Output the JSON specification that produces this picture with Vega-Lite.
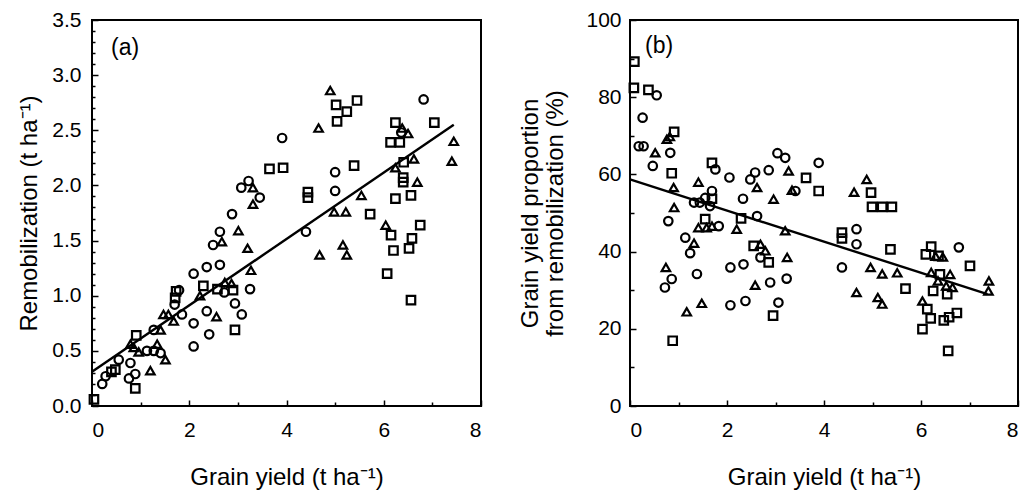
{
  "$schema": "https://vega.github.io/schema/vega-lite/v6.json",
  "padding": {"left": 16, "top": 8, "right": 5, "bottom": 5},
  "spacing": 34,
  "config": {
    "font": "Liberation Sans",
    "view": {"stroke": "black", "strokeWidth": 2},
    "axis": {"grid": false, "domain": false, "labelFont": "Liberation Sans", "titleFont": "Liberation Sans", "labelFontSize": 21, "titleFontSize": 24, "titleFontWeight": "normal", "labelColor": "black", "titleColor": "black", "tickColor": "black", "tickWidth": 1.5}
  },
  "datasets": {
    "a": [
      {"g":"S","x":0.04,"y":0.06},{"g":"C","x":0.21,"y":0.2},{"g":"C","x":0.28,"y":0.27},{"g":"S","x":0.4,"y":0.31},{"g":"S","x":0.48,"y":0.33},{"g":"C","x":0.55,"y":0.42},
      {"g":"T","x":0.79,"y":0.56},{"g":"T","x":0.86,"y":0.53},{"g":"S","x":0.91,"y":0.64},{"g":"C","x":0.79,"y":0.39},{"g":"C","x":0.89,"y":0.29},{"g":"C","x":0.76,"y":0.25},
      {"g":"S","x":0.89,"y":0.16},{"g":"T","x":0.96,"y":0.49},{"g":"T","x":1.2,"y":0.32},{"g":"C","x":1.13,"y":0.5},{"g":"C","x":1.27,"y":0.5},{"g":"T","x":1.34,"y":0.56},
      {"g":"C","x":1.41,"y":0.48},{"g":"T","x":1.51,"y":0.42},{"g":"C","x":1.27,"y":0.69},{"g":"T","x":1.41,"y":0.69},{"g":"T","x":1.47,"y":0.83},{"g":"T","x":1.57,"y":0.83},
      {"g":"T","x":1.68,"y":0.77},{"g":"C","x":1.7,"y":0.92},{"g":"S","x":1.71,"y":0.98},{"g":"S","x":1.73,"y":1.04},{"g":"C","x":1.79,"y":1.05},{"g":"C","x":1.85,"y":0.83},
      {"g":"C","x":2.09,"y":0.54},{"g":"C","x":2.09,"y":0.75},{"g":"C","x":2.09,"y":1.2},{"g":"T","x":2.22,"y":1.0},{"g":"S","x":2.29,"y":1.09},{"g":"C","x":2.36,"y":0.86},
      {"g":"C","x":2.41,"y":0.65},{"g":"C","x":2.36,"y":1.26},{"g":"C","x":2.63,"y":1.28},{"g":"T","x":2.56,"y":0.81},{"g":"S","x":2.58,"y":1.06},{"g":"T","x":2.73,"y":1.12},
      {"g":"C","x":2.72,"y":1.03},{"g":"T","x":2.87,"y":1.11},{"g":"S","x":2.9,"y":1.05},{"g":"C","x":2.49,"y":1.46},{"g":"T","x":2.67,"y":1.49},{"g":"C","x":2.63,"y":1.58},
      {"g":"C","x":2.94,"y":0.93},{"g":"C","x":3.08,"y":0.83},{"g":"S","x":2.94,"y":0.69},{"g":"C","x":3.25,"y":1.06},{"g":"T","x":3.27,"y":1.23},{"g":"T","x":3.2,"y":1.43},
      {"g":"T","x":3.01,"y":1.59},{"g":"C","x":2.88,"y":1.74},{"g":"C","x":3.07,"y":1.98},{"g":"C","x":3.22,"y":2.04},{"g":"T","x":3.31,"y":1.98},{"g":"C","x":3.45,"y":1.89},
      {"g":"T","x":3.31,"y":1.83},{"g":"S","x":3.65,"y":2.15},{"g":"S","x":3.93,"y":2.16},{"g":"C","x":3.91,"y":2.43},
      {"g":"T","x":4.9,"y":2.86},{"g":"S","x":5.02,"y":2.73},{"g":"S","x":5.24,"y":2.67},{"g":"S","x":5.45,"y":2.77},{"g":"S","x":5.04,"y":2.58},{"g":"T","x":4.66,"y":2.52},
      {"g":"C","x":6.82,"y":2.78},{"g":"S","x":7.04,"y":2.57},{"g":"S","x":6.24,"y":2.57},{"g":"T","x":6.38,"y":2.52},{"g":"C","x":6.36,"y":2.48},{"g":"T","x":6.5,"y":2.47},
      {"g":"S","x":6.14,"y":2.39},{"g":"S","x":6.33,"y":2.39},{"g":"T","x":7.44,"y":2.4},{"g":"T","x":7.4,"y":2.22},{"g":"S","x":5.39,"y":2.18},{"g":"C","x":5.0,"y":2.12},
      {"g":"C","x":5.0,"y":1.95},{"g":"S","x":4.44,"y":1.94},{"g":"S","x":4.44,"y":1.89},{"g":"T","x":6.24,"y":2.16},{"g":"S","x":6.41,"y":2.21},{"g":"T","x":6.62,"y":2.24},
      {"g":"S","x":6.4,"y":2.07},{"g":"S","x":6.4,"y":2.03},{"g":"T","x":6.69,"y":2.03},{"g":"S","x":6.24,"y":1.88},{"g":"S","x":6.56,"y":1.91},{"g":"T","x":5.54,"y":1.91},
      {"g":"T","x":4.98,"y":1.76},{"g":"T","x":5.22,"y":1.76},{"g":"S","x":5.72,"y":1.74},{"g":"C","x":4.4,"y":1.58},{"g":"T","x":6.04,"y":1.64},{"g":"S","x":6.15,"y":1.55},
      {"g":"S","x":6.75,"y":1.64},{"g":"S","x":6.58,"y":1.52},{"g":"S","x":6.2,"y":1.41},{"g":"S","x":6.52,"y":1.43},{"g":"T","x":4.68,"y":1.37},{"g":"T","x":5.16,"y":1.46},
      {"g":"T","x":5.24,"y":1.37},{"g":"S","x":6.07,"y":1.2},{"g":"S","x":6.56,"y":0.96}
    ],
    "b": [
      {"g":"S","x":0.09,"y":89.2},{"g":"S","x":0.08,"y":82.4},{"g":"S","x":0.38,"y":81.9},{"g":"C","x":0.55,"y":80.5},{"g":"C","x":0.26,"y":74.7},{"g":"C","x":0.18,"y":67.3},
      {"g":"C","x":0.28,"y":67.3},{"g":"T","x":0.52,"y":65.6},{"g":"C","x":0.47,"y":62.2},{"g":"T","x":0.76,"y":69.1},{"g":"T","x":0.82,"y":69.8},{"g":"S","x":0.91,"y":71},
      {"g":"C","x":0.83,"y":65.6},{"g":"S","x":0.86,"y":60.3},{"g":"T","x":0.9,"y":56.6},{"g":"T","x":0.91,"y":51.4},{"g":"C","x":0.79,"y":47.9},{"g":"T","x":0.74,"y":35.9},
      {"g":"C","x":0.86,"y":32.9},{"g":"C","x":0.72,"y":30.7},{"g":"S","x":0.88,"y":16.9},{"g":"T","x":1.17,"y":24.4},{"g":"T","x":1.48,"y":26.6},{"g":"C","x":1.14,"y":43.6},
      {"g":"C","x":1.24,"y":39.6},{"g":"T","x":1.32,"y":42.2},{"g":"C","x":1.38,"y":34.2},{"g":"T","x":1.41,"y":58.0},{"g":"C","x":1.32,"y":52.7},{"g":"C","x":1.44,"y":52.7},
      {"g":"T","x":1.41,"y":46.2},{"g":"S","x":1.55,"y":48.4},{"g":"T","x":1.58,"y":46.2},{"g":"T","x":1.69,"y":46.6},{"g":"S","x":1.69,"y":53.7},{"g":"C","x":1.55,"y":53.9},
      {"g":"C","x":1.69,"y":55.7},{"g":"C","x":1.65,"y":51.8},{"g":"S","x":1.69,"y":63.0},{"g":"C","x":1.76,"y":61.3},{"g":"C","x":1.83,"y":46.6},{"g":"C","x":2.05,"y":59.2},
      {"g":"C","x":2.07,"y":35.9},{"g":"C","x":2.07,"y":26.1},{"g":"T","x":2.2,"y":45.8},{"g":"S","x":2.29,"y":48.6},{"g":"C","x":2.33,"y":53.7},{"g":"C","x":2.34,"y":36.7},
      {"g":"C","x":2.38,"y":27.2},{"g":"C","x":2.48,"y":58.7},{"g":"C","x":2.58,"y":60.5},{"g":"T","x":2.62,"y":56.6},{"g":"C","x":2.62,"y":49.2},{"g":"S","x":2.55,"y":41.5},
      {"g":"T","x":2.69,"y":41.9},{"g":"T","x":2.79,"y":40.2},{"g":"C","x":2.69,"y":38.5},{"g":"S","x":2.86,"y":37.2},{"g":"T","x":2.58,"y":31.3},{"g":"C","x":2.89,"y":32.0},
      {"g":"C","x":3.06,"y":26.8},{"g":"S","x":2.95,"y":23.4},{"g":"C","x":2.86,"y":61.1},{"g":"T","x":2.96,"y":53.6},{"g":"C","x":3.04,"y":65.5},{"g":"C","x":3.2,"y":64.3},
      {"g":"T","x":3.27,"y":60.9},{"g":"T","x":3.2,"y":45.4},{"g":"T","x":3.24,"y":38.5},{"g":"C","x":3.23,"y":33.0},{"g":"T","x":3.34,"y":55.9},{"g":"C","x":3.41,"y":55.7},
      {"g":"S","x":3.63,"y":59.1},{"g":"C","x":3.89,"y":63.0},{"g":"S","x":3.89,"y":55.7},{"g":"T","x":4.88,"y":58.7},{"g":"T","x":4.62,"y":55.4},{"g":"S","x":4.97,"y":55.3},
      {"g":"S","x":4.99,"y":51.6},{"g":"S","x":5.2,"y":51.6},{"g":"S","x":5.4,"y":51.6},{"g":"S","x":4.37,"y":44.9},{"g":"S","x":4.37,"y":43.4},{"g":"C","x":4.67,"y":45.8},
      {"g":"C","x":4.67,"y":41.9},{"g":"C","x":4.37,"y":35.9},{"g":"T","x":4.67,"y":29.4},{"g":"T","x":4.96,"y":35.9},{"g":"T","x":5.2,"y":34.2},{"g":"T","x":5.51,"y":34.5},
      {"g":"T","x":5.11,"y":28.1},{"g":"T","x":5.2,"y":26.4},{"g":"S","x":5.37,"y":40.6},{"g":"S","x":5.68,"y":30.4},{"g":"T","x":6.03,"y":27.2},{"g":"S","x":6.13,"y":25.1},
      {"g":"S","x":6.2,"y":22.7},{"g":"S","x":6.03,"y":19.9},{"g":"S","x":6.21,"y":41.3},{"g":"S","x":6.1,"y":39.3},{"g":"T","x":6.3,"y":38.8},{"g":"T","x":6.45,"y":38.6},
      {"g":"S","x":6.36,"y":38.9},{"g":"T","x":6.21,"y":34.6},{"g":"S","x":6.39,"y":34.1},{"g":"T","x":6.6,"y":34.1},{"g":"T","x":6.35,"y":32.4},{"g":"S","x":6.25,"y":29.8},
      {"g":"T","x":6.52,"y":31.1},{"g":"T","x":6.65,"y":30.7},{"g":"S","x":6.54,"y":29.0},{"g":"S","x":6.74,"y":24.1},{"g":"S","x":6.58,"y":23.0},{"g":"S","x":6.47,"y":22.2},
      {"g":"S","x":6.56,"y":14.3},{"g":"C","x":6.78,"y":41.1},{"g":"S","x":7.01,"y":36.3},{"g":"T","x":7.4,"y":32.4},{"g":"T","x":7.39,"y":29.8}
    ],
    "fitA": [{"x":0,"y":0.31},{"x":7.44,"y":2.55}],
    "fitB": [{"x":0,"y":58.7},{"x":7.37,"y":29.0}],
    "labA": [{"x":0.68,"y":3.25,"t":"(a)"}],
    "labB": [{"x":0.6,"y":93.3,"t":"(b)"}]
  },
  "hconcat": [
    {
      "width": 389, "height": 386,
      "resolve": {"axis": {"x": "independent", "y": "independent"}},
      "layer": [
        {
          "data": {"name": "a"},
          "mark": {"type": "point", "filled": false, "color": "black", "strokeWidth": 2.2, "size": 72, "opacity": 1},
          "encoding": {
            "x": {"field": "x", "type": "quantitative", "scale": {"domain": [0, 8], "nice": false, "zero": false},
                  "axis": {"orient": "bottom", "values": [0, 2, 4, 6, 8], "tickSize": -6, "labelPadding": 19, "title": "Grain yield (t ha⁻¹)", "titlePadding": 25}},
            "y": {"field": "y", "type": "quantitative", "scale": {"domain": [0, 3.5], "nice": false, "zero": false},
                  "axis": {"orient": "left", "values": [0, 0.5, 1, 1.5, 2, 2.5, 3, 3.5], "format": ".1f", "tickSize": -6, "labelPadding": 17, "title": "Remobilization (t ha⁻¹)", "titlePadding": 10}},
            "shape": {"field": "g", "type": "nominal", "scale": {"domain": ["C", "S", "T"], "range": ["circle", "square", "triangle-up"]}, "legend": null}
          }
        },
        {
          "data": {"name": "fitA"},
          "mark": {"type": "line", "color": "black", "strokeWidth": 2.4},
          "encoding": {
            "x": {"field": "x", "type": "quantitative", "axis": {"orient": "bottom", "values": [1, 3, 5, 7], "tickSize": -4, "labels": false, "title": null}},
            "y": {"field": "y", "type": "quantitative", "axis": {"orient": "left", "values": [0.1,0.2,0.3,0.4,0.6,0.7,0.8,0.9,1.1,1.2,1.3,1.4,1.6,1.7,1.8,1.9,2.1,2.2,2.3,2.4,2.6,2.7,2.8,2.9,3.1,3.2,3.3,3.4], "tickSize": -3, "labels": false, "title": null}}
          }
        },
        {
          "data": {"name": "labA"},
          "mark": {"type": "text", "fontSize": 23, "font": "Liberation Sans", "color": "black", "align": "center", "baseline": "middle"},
          "encoding": {
            "x": {"field": "x", "type": "quantitative", "axis": null},
            "y": {"field": "y", "type": "quantitative", "axis": null},
            "text": {"field": "t"}
          }
        }
      ]
    },
    {
      "width": 388, "height": 386,
      "resolve": {"axis": {"x": "independent", "y": "independent"}},
      "layer": [
        {
          "data": {"name": "b"},
          "mark": {"type": "point", "filled": false, "color": "black", "strokeWidth": 2.2, "size": 72, "opacity": 1},
          "encoding": {
            "x": {"field": "x", "type": "quantitative", "scale": {"domain": [0, 8], "nice": false, "zero": false},
                  "axis": {"orient": "bottom", "values": [0, 2, 4, 6, 8], "tickSize": -6, "labelPadding": 19, "title": "Grain yield (t ha⁻¹)", "titlePadding": 25}},
            "y": {"field": "y", "type": "quantitative", "scale": {"domain": [0, 100], "nice": false, "zero": false},
                  "axis": {"orient": "left", "values": [0, 20, 40, 60, 80, 100], "tickSize": -6, "labelPadding": 15, "title": ["Grain yield proportion", "from remobilization (%)"], "titlePadding": 18, "titleLineHeight": 25}},
            "shape": {"field": "g", "type": "nominal", "scale": {"domain": ["C", "S", "T"], "range": ["circle", "square", "triangle-up"]}, "legend": null}
          }
        },
        {
          "data": {"name": "fitB"},
          "mark": {"type": "line", "color": "black", "strokeWidth": 2.4},
          "encoding": {
            "x": {"field": "x", "type": "quantitative", "axis": {"orient": "bottom", "values": [1, 3, 5, 7], "tickSize": -4, "labels": false, "title": null}},
            "y": {"field": "y", "type": "quantitative", "axis": {"orient": "left", "values": [10, 30, 50, 70, 90], "tickSize": -4, "labels": false, "title": null}}
          }
        },
        {
          "data": {"name": "labB"},
          "mark": {"type": "text", "fontSize": 23, "font": "Liberation Sans", "color": "black", "align": "center", "baseline": "middle"},
          "encoding": {
            "x": {"field": "x", "type": "quantitative", "axis": null},
            "y": {"field": "y", "type": "quantitative", "axis": null},
            "text": {"field": "t"}
          }
        }
      ]
    }
  ]
}
